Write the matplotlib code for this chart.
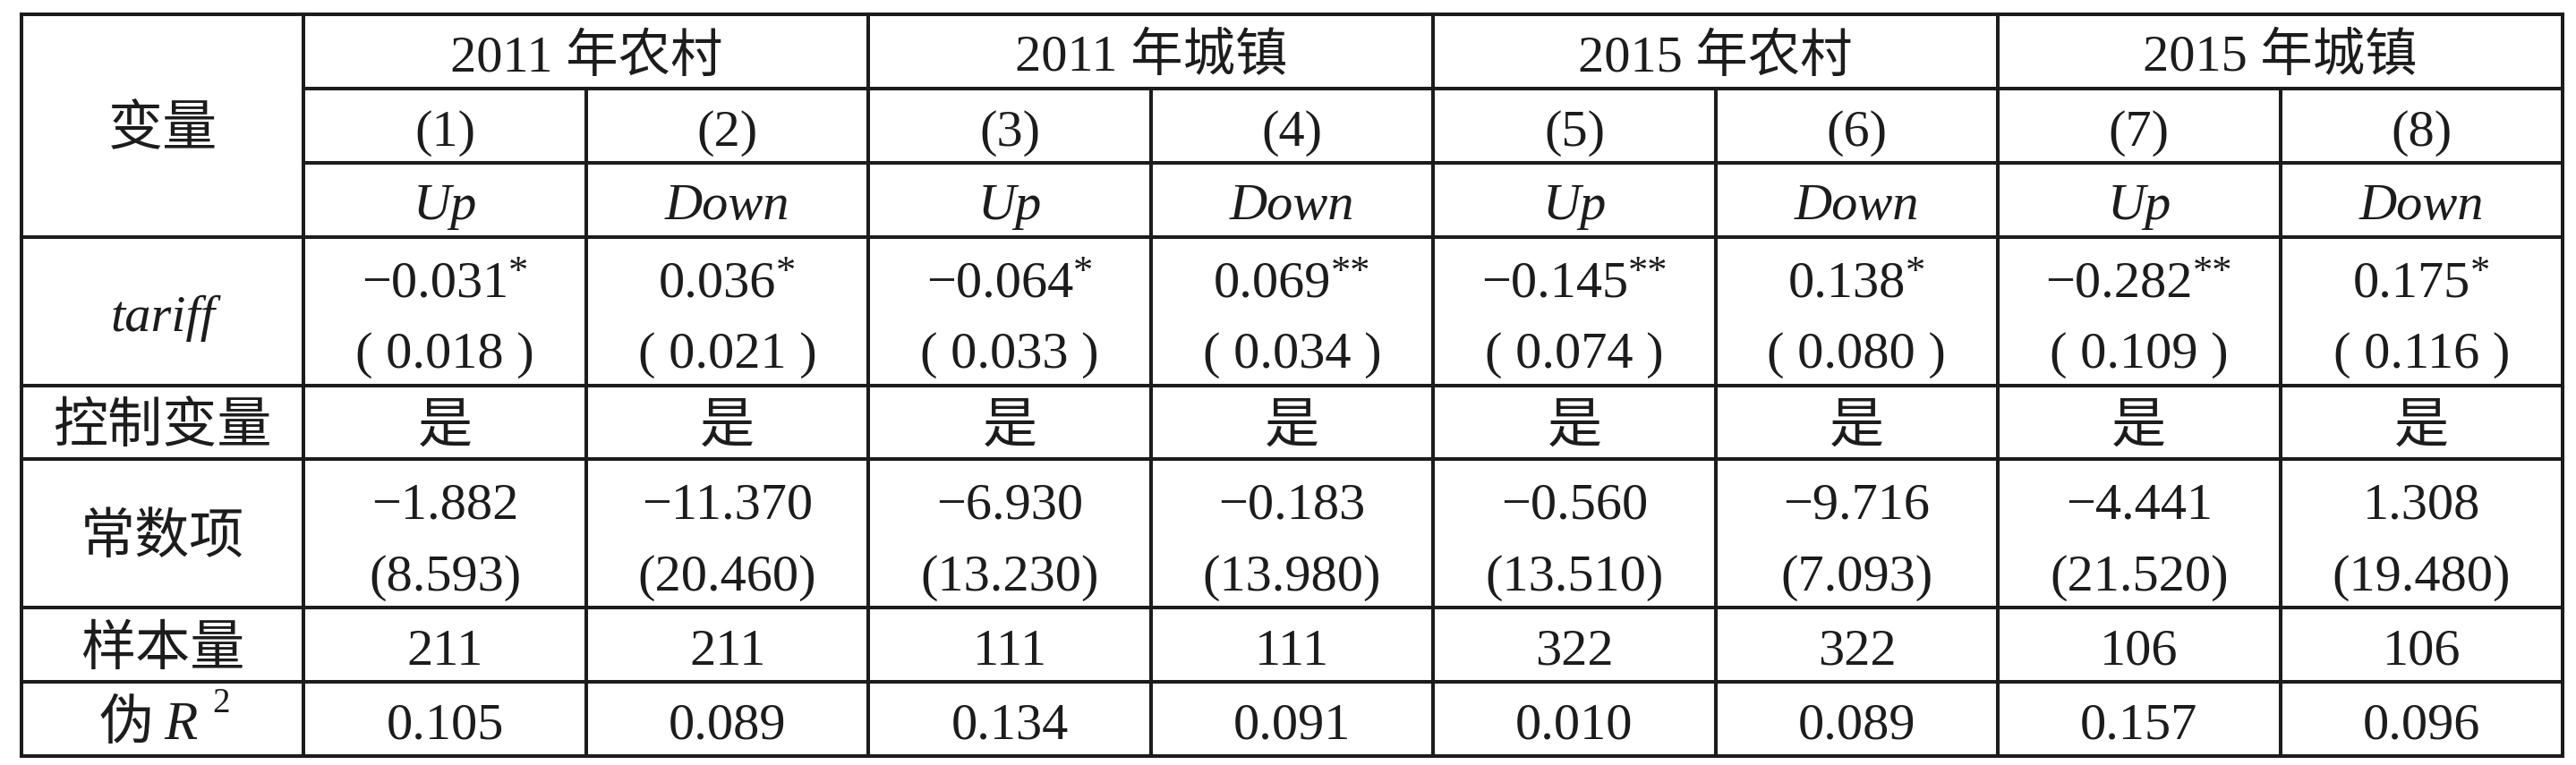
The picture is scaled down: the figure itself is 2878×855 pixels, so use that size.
import matplotlib
matplotlib.use("Agg")
import matplotlib.pyplot as plt

# ---- table content ----
group_names = ["2011 年农村", "2011 年城镇", "2015 年农村", "2015 年城镇"]
model_ids = ["(1)", "(2)", "(3)", "(4)", "(5)", "(6)", "(7)", "(8)"]
directions = ["Up", "Down", "Up", "Down", "Up", "Down", "Up", "Down"]
tariff_coef = [-0.031, 0.036, -0.064, 0.069, -0.145, 0.138, -0.282, 0.175]
tariff_stars = ["*", "*", "*", "**", "**", "*", "**", "*"]
tariff_se = [0.018, 0.021, 0.033, 0.034, 0.074, 0.080, 0.109, 0.116]
controls = ["是"] * 8
const_coef = [-1.882, -11.370, -6.930, -0.183, -0.560, -9.716, -4.441, 1.308]
const_se = [8.593, 20.460, 13.230, 13.980, 13.510, 7.093, 21.520, 19.480]
n_obs = [211, 211, 111, 111, 322, 322, 106, 106]
pseudo_r2 = [0.105, 0.089, 0.134, 0.091, 0.010, 0.089, 0.157, 0.096]

plt.rcParams["font.family"] = ["Liberation Serif", "Noto Sans CJK SC"]

W, H = 2878, 855
fig = plt.figure(figsize=(W / 100, H / 100), dpi=100)
ax = fig.add_axes([0, 0, 1, 1])
ax.set_xlim(0, W)
ax.set_ylim(H, 0)
ax.axis("off")

INK = "#1c1c1c"
LW = 2.9
FS = 42
FS_CJK = 44
BASE = 22  # baseline offset below the cell centre, px

left, right, top, bottom = 24, 2863, 16, 845
col_w = (right - left) / 9
col_edges = [left + i * col_w for i in range(10)]
row_units = [1, 1, 1, 2, 1, 2, 1, 1]
unit = (bottom - top) / sum(row_units)
row_edges = [top]
for u in row_units:
    row_edges.append(row_edges[-1] + u * unit)

# grid lines
for i, y in enumerate(row_edges):
    x0 = col_edges[1] if i in (1, 2) else left
    ax.hlines(y, x0, right, color=INK, lw=LW, capstyle="projecting")
for j, x in enumerate(col_edges):
    y0 = row_edges[1] if j in (2, 4, 6, 8) else top
    ax.vlines(x, y0, bottom, color=INK, lw=LW, capstyle="projecting")


def put(x, yc, s, size=FS, ha="center", **kw):
    return ax.text(x, yc + BASE, s, ha=ha, va="baseline", fontsize=size, color=INK, **kw)


def num(v):
    return f"{v:.3f}".replace("-", "\u2212")


def cx(k):
    return (col_edges[k] + col_edges[k + 1]) / 2


def sub_centre(r, part):
    return row_edges[r] + (part + 0.5) * unit


renderer = fig.canvas.get_renderer()

# header
put(cx(0), (row_edges[0] + row_edges[3]) / 2, "变量", size=FS_CJK)
for g, name in enumerate(group_names):
    x = (col_edges[1 + 2 * g] + col_edges[3 + 2 * g]) / 2
    put(x, sub_centre(0, 0), name)
for k in range(8):
    put(cx(k + 1), sub_centre(1, 0), model_ids[k])
    put(cx(k + 1), sub_centre(2, 0), directions[k], fontstyle="italic")

# row labels
put(cx(0), (row_edges[3] + row_edges[4]) / 2, "tariff", fontstyle="italic")
put(cx(0), sub_centre(4, 0), "控制变量", size=FS_CJK)
put(cx(0), (row_edges[5] + row_edges[6]) / 2, "常数项", size=FS_CJK)
put(cx(0), sub_centre(6, 0), "样本量", size=FS_CJK)
put(cx(0) - 10, sub_centre(7, 0), "伪", size=FS_CJK, ha="right")
put(cx(0) + 2, sub_centre(7, 0), "R", size=44, fontstyle="italic", ha="left")
put(cx(0) + 56, sub_centre(7, 0) - 30, "2", size=28, ha="left")

# body
for k in range(8):
    x = cx(k + 1)
    # coefficient with significance stars
    t_num = put(0, sub_centre(3, 0) + 3, num(tariff_coef[k]), ha="left")
    t_star = put(0, sub_centre(3, 0) + 3 - 15, tariff_stars[k], size=32, ha="left")
    wn = t_num.get_window_extent(renderer).width
    ws = t_star.get_window_extent(renderer).width
    x0 = x - (wn + ws) / 2
    t_num.set_x(x0)
    t_star.set_x(x0 + wn)
    put(x, sub_centre(3, 1), "( " + num(tariff_se[k]) + " )")

    put(x, sub_centre(4, 0), controls[k], size=FS_CJK)
    put(x, sub_centre(5, 0) + 3, num(const_coef[k]))
    put(x, sub_centre(5, 1), "(" + num(const_se[k]) + ")")
    put(x, sub_centre(6, 0), str(n_obs[k]))
    put(x, sub_centre(7, 0), num(pseudo_r2[k]))

fig.savefig("out.png", dpi=100, facecolor="white")
